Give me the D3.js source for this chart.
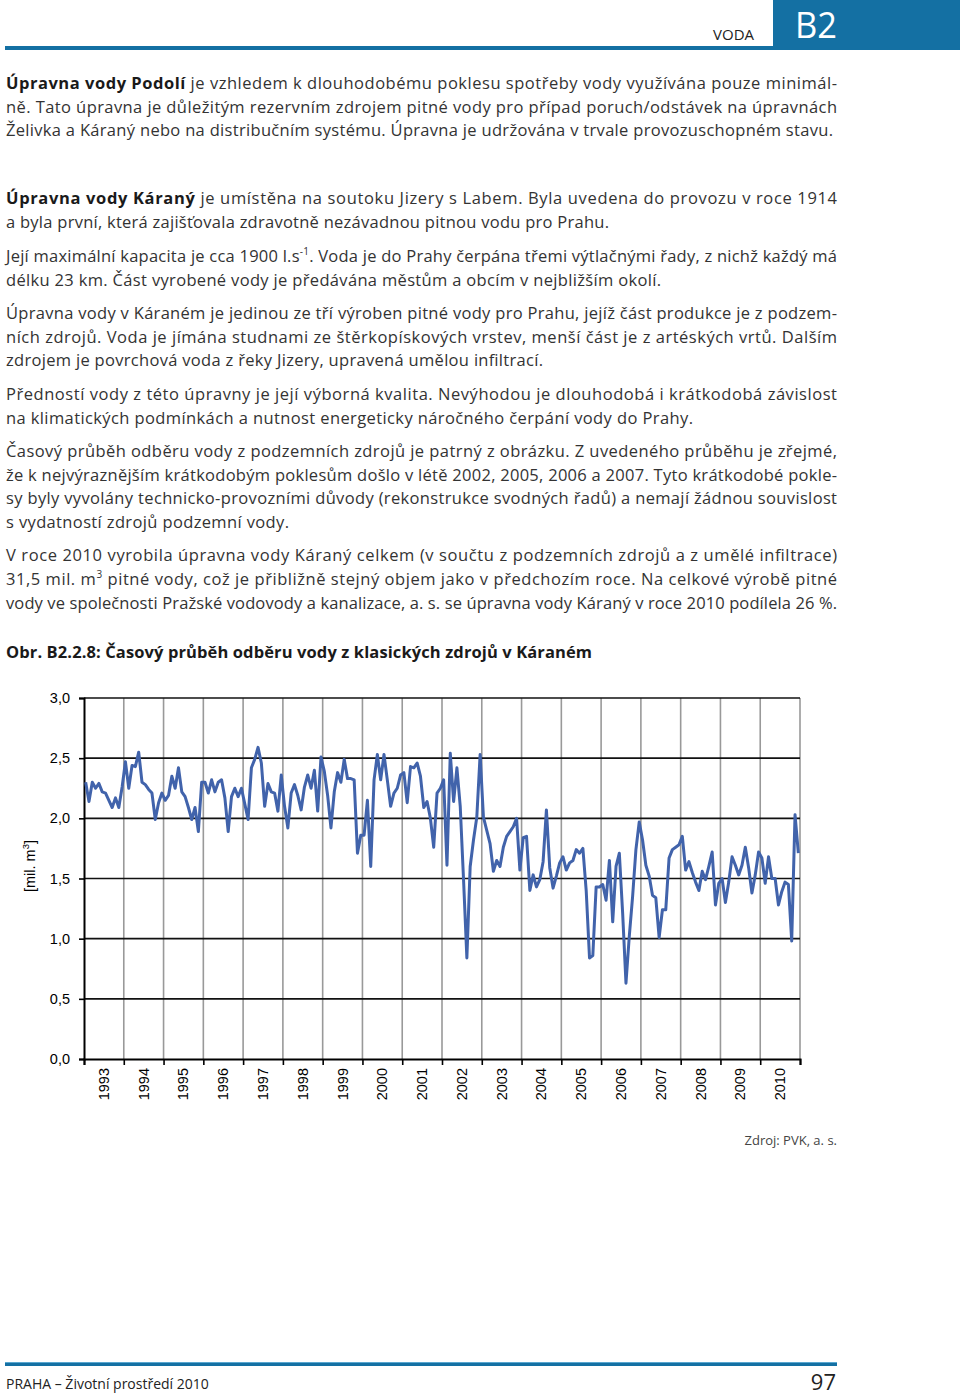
<!DOCTYPE html>
<html><head><meta charset="utf-8">
<script src="https://cdn.jsdelivr.net/npm/d3@7"></script>
<style>body{margin:0;background:#fff}svg{display:block}</style>
</head><body>
<svg id="page" width="960" height="1395"></svg>
<script>
// ---- chart data (monthly abstraction, mil. m3) ----
const years = [1993,1994,1995,1996,1997,1998,1999,2000,2001,2002,2003,2004,2005,2006,2007,2008,2009,2010];
const v1993 = [2.30,2.14,2.30,2.25,2.29,2.22,2.21,2.15,2.09,2.17,2.09,2.26];
const v1994 = [2.47,2.25,2.44,2.43,2.55,2.30,2.28,2.24,2.21,1.99,2.13,2.21];
const v1995 = [2.15,2.19,2.35,2.25,2.42,2.22,2.18,2.09,1.99,2.09,1.89,2.30];
const v1996 = [2.30,2.21,2.32,2.22,2.30,2.32,2.17,1.89,2.18,2.25,2.18,2.25];
const v1997 = [2.12,1.99,2.42,2.49,2.59,2.46,2.10,2.29,2.22,2.21,2.06,2.36];
const v1998 = [2.10,1.92,2.21,2.28,2.19,2.07,2.26,2.36,2.25,2.40,2.06,2.51];
const v1999 = [2.39,2.19,1.92,2.22,2.38,2.30,2.49,2.33,2.33,2.32,1.71,1.86];
const v2000 = [1.86,2.15,1.60,2.32,2.53,2.32,2.53,2.32,2.10,2.21,2.25,2.36];
const v2001 = [2.38,2.13,2.43,2.42,2.46,2.35,2.09,2.14,2.00,1.76,2.21,2.25];
const v2002 = [2.32,1.61,2.54,2.14,2.42,2.10,1.49,0.84,1.60,1.82,2.01,2.53];
const v2003 = [2.01,1.90,1.79,1.56,1.65,1.60,1.76,1.85,1.89,1.93,2.00,1.57];
const v2004 = [1.84,1.85,1.40,1.53,1.43,1.49,1.64,2.07,1.59,1.42,1.52,1.63];
const v2005 = [1.68,1.57,1.63,1.65,1.74,1.71,1.75,1.40,0.84,0.86,1.43,1.43];
const v2006 = [1.45,1.32,1.65,1.14,1.60,1.71,1.21,0.63,1.02,1.35,1.74,1.97];
const v2007 = [1.82,1.61,1.52,1.36,1.34,1.01,1.24,1.24,1.67,1.74,1.76,1.78];
const v2008 = [1.85,1.57,1.64,1.55,1.47,1.40,1.56,1.49,1.60,1.72,1.28,1.46];
const v2009 = [1.50,1.30,1.47,1.68,1.61,1.53,1.61,1.76,1.59,1.38,1.53,1.72];
const v2010 = [1.67,1.46,1.68,1.50,1.50,1.28,1.39,1.47,1.45,0.98,2.03,1.71];
const yTicks = [0,0.5,1,1.5,2,2.5,3];

const series = [v1993,v1994,v1995,v1996,v1997,v1998,v1999,v2000,v2001,v2002,v2003,v2004,v2005,v2006,v2007,v2008,v2009,v2010];
const values = series.flat();

const svg = d3.select('#page');
const BLUE = '#1470a3';

// ---- header ----
svg.append('rect').attr('x',773).attr('y',0).attr('width',187).attr('height',50).attr('fill',BLUE);
svg.append('rect').attr('x',5).attr('y',46).attr('width',768).attr('height',4).attr('fill',BLUE);
svg.append('text').attr('x',754).attr('y',40).attr('text-anchor','end')
  .attr('font-family','Open Sans').attr('font-size',15).attr('fill','#222').text('VODA');
svg.append('text').attr('x',795).attr('y',38).attr('font-family','Open Sans')
  .attr('font-size',36).attr('fill','#fff').attr('textLength',42).attr('lengthAdjust','spacingAndGlyphs').text('B2');

// ---- body text ----
const B = 'b', N = 'n', S = 's';
const lines = [
  {y:89, end:837, parts:[[B,'Úpravna vody Podolí'],[N,' je vzhledem k dlouhodobému poklesu spotřeby vody využívána pouze minimál-']]},
  {y:113, end:837, parts:[[N,'ně. Tato úpravna je důležitým rezervním zdrojem pitné vody pro případ poruch/odstávek na úpravnách']]},
  {y:136, end:833, parts:[[N,'Želivka a Káraný nebo na distribučním systému. Úpravna je udržována v trvale provozuschopném stavu.']]},
  {y:204, end:837, parts:[[B,'Úpravna vody Káraný'],[N,' je umístěna na soutoku Jizery s Labem. Byla uvedena do provozu v roce 1914']]},
  {y:228, end:609, parts:[[N,'a byla první, která zajišťovala zdravotně nezávadnou pitnou vodu pro Prahu.']]},
  {y:262, end:837, parts:[[N,'Její maximální kapacita je cca 1900 l.s'],[S,'-1'],[N,'. Voda je do Prahy čerpána třemi výtlačnými řady, z nichž každý má']]},
  {y:286, end:661, parts:[[N,'délku 23 km. Část vyrobené vody je předávána městům a obcím v nejbližším okolí.']]},
  {y:319, end:837, parts:[[N,'Úpravna vody v Káraném je jedinou ze tří výroben pitné vody pro Prahu, jejíž část produkce je z podzem-']]},
  {y:343, end:837, parts:[[N,'ních zdrojů. Voda je jímána studnami ze štěrkopískových vrstev, menší část je z artéských vrtů. Dalším']]},
  {y:366, end:543, parts:[[N,'zdrojem je povrchová voda z řeky Jizery, upravená umělou infiltrací.']]},
  {y:400, end:837, parts:[[N,'Předností vody z této úpravny je její výborná kvalita. Nevýhodou je dlouhodobá i krátkodobá závislost']]},
  {y:424, end:693, parts:[[N,'na klimatických podmínkách a nutnost energeticky náročného čerpání vody do Prahy.']]},
  {y:457, end:837, parts:[[N,'Časový průběh odběru vody z podzemních zdrojů je patrný z obrázku. Z uvedeného průběhu je zřejmé,']]},
  {y:481, end:837, parts:[[N,'že k nejvýraznějším krátkodobým poklesům došlo v létě 2002, 2005, 2006 a 2007. Tyto krátkodobé pokle-']]},
  {y:504, end:837, parts:[[N,'sy byly vyvolány technicko-provozními důvody (rekonstrukce svodných řadů) a nemají žádnou souvislost']]},
  {y:528, end:289, parts:[[N,'s vydatností zdrojů podzemní vody.']]},
  {y:561, end:837, parts:[[N,'V roce 2010 vyrobila úpravna vody Káraný celkem (v součtu z podzemních zdrojů a z umělé infiltrace)']]},
  {y:585, end:837, parts:[[N,'31,5 mil. m'],[S,'3'],[N,' pitné vody, což je přibližně stejný objem jako v předchozím roce. Na celkové výrobě pitné']]},
  {y:609, end:837, parts:[[N,'vody ve společnosti Pražské vodovody a kanalizace, a. s. se úpravna vody Káraný v roce 2010 podílela 26 %.']]},
  {y:658, end:592, parts:[[B,'Obr. B2.2.8: Časový průběh odběru vody z klasických zdrojů v Káraném']]}
];
lines.forEach(l => {
  const t = svg.append('text').attr('x',6).attr('y',l.y)
    .attr('font-family','Open Sans').attr('font-size',16.5).attr('fill','#333');
  let sup = false;
  l.parts.forEach(([k,s]) => {
    const ts = t.append('tspan').text(s);
    if (k === B) ts.attr('font-weight','bold').attr('fill','#1a1a1a');
    if (k === S) { ts.attr('font-size',10).attr('dy',-7); sup = true; }
    else if (sup) { ts.attr('dy',7); sup = false; }
  });
  const nat = t.node().getComputedTextLength();
  const target = l.end - 6;
  t.attr('textLength', target).attr('lengthAdjust', nat > target ? 'spacingAndGlyphs' : 'spacing');
});

// ---- chart ----
const x = d3.scaleLinear().domain([0, values.length]).range([84, 800]);
const y = d3.scaleLinear().domain([0, 3]).range([1059, 698]);
const g = svg.append('g');

// vertical year gridlines
const bounds = d3.range(1, years.length + 1);
g.selectAll('line.vg').data(bounds).join('line')
  .attr('x1', d => x(d*12)).attr('x2', d => x(d*12))
  .attr('y1', y(3)).attr('y2', y(0)).attr('stroke', '#999').attr('stroke-width', 1.6);
// horizontal gridlines
g.selectAll('line.hg').data(yTicks.filter(d => d > 0)).join('line')
  .attr('x1', x(0)).attr('x2', x(values.length))
  .attr('y1', d => y(d)).attr('y2', d => y(d)).attr('stroke', '#111').attr('stroke-width', 1.6);

// y axis
const yAxis = g.append('g').attr('transform', `translate(${x(0)},0)`)
  .call(d3.axisLeft(y).tickValues(yTicks).tickSize(5).tickPadding(9)
    .tickFormat(d => d3.format('.1f')(d).replace('.', ',')));
yAxis.select('.domain').attr('stroke', '#000').attr('stroke-width', 2);
yAxis.selectAll('.tick line').attr('stroke', '#000').attr('stroke-width', 1.6);
yAxis.selectAll('text').attr('font-family', 'Liberation Sans').attr('font-size', 14.5).attr('fill', '#000');

// x axis
const xAxis = g.append('g').attr('transform', `translate(0,${y(0)})`)
  .call(d3.axisBottom(x).tickValues(d3.range(0, years.length + 1).map(k => k*12)).tickSize(6).tickFormat(''));
xAxis.select('.domain').attr('stroke', '#000').attr('stroke-width', 2);
xAxis.selectAll('.tick line').attr('stroke', '#000').attr('stroke-width', 1.6);
g.selectAll('text.yr').data(years).join('text')
  .attr('transform', (d, i) => `translate(${x(i*12 + 6) + 5},1068) rotate(-90)`)
  .attr('text-anchor', 'end').attr('font-family', 'Liberation Sans').attr('font-size', 14.5).attr('fill', '#000')
  .text(d => d);

// y title
const yt = g.append('text').attr('transform', 'translate(35,866) rotate(-90)')
  .attr('text-anchor', 'middle').attr('font-family', 'Liberation Sans').attr('font-size', 14.5).attr('fill', '#000');
yt.append('tspan').text('[mil. m');
yt.append('tspan').attr('font-size', 9.5).attr('dy', -6).text('3');
yt.append('tspan').attr('dy', 6).text(']');

// series line
const line = d3.line().x((d, i) => x(i + 0.5)).y(d => y(d));
g.append('path').datum(values).attr('d', line).attr('fill', 'none')
  .attr('stroke', '#4163ab').attr('stroke-width', 3).attr('stroke-linejoin', 'round');

// source
svg.append('text').attr('x', 837).attr('y', 1145).attr('text-anchor', 'end')
  .attr('font-family', 'Open Sans').attr('font-size', 13).attr('fill', '#444').text('Zdroj: PVK, a. s.');

// ---- footer ----
svg.append('rect').attr('x', 5).attr('y', 1362).attr('width', 832).attr('height', 4).attr('fill', BLUE);
svg.append('rect').attr('x', 5).attr('y', 1362).attr('width', 832).attr('height', 1).attr('fill', '#5aa7d0');
svg.append('text').attr('x', 6).attr('y', 1389).attr('font-family', 'Open Sans').attr('font-size', 14)
  .attr('fill', '#222').text('PRAHA – Životní prostředí 2010');
svg.append('text').attr('x', 836).attr('y', 1390).attr('text-anchor', 'end').attr('font-family', 'Open Sans')
  .attr('font-size', 22).attr('fill', '#222').text('97');
</script>
</body></html>
